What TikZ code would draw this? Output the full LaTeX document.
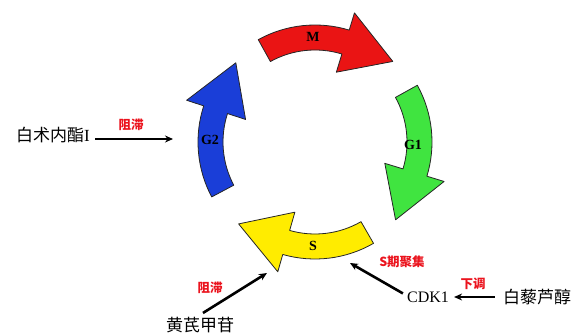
\documentclass[tikz,border=0pt]{standalone}
\usepackage{fontspec}
\setmainfont{Liberation Serif}
\newfontfamily\cjk{Noto Sans CJK SC}
\usetikzlibrary{calc,arrows.meta}

\definecolor{phaseM}{RGB}{234,20,20}
\definecolor{phaseGa}{RGB}{64,228,64}
\definecolor{phaseS}{RGB}{255,236,0}
\definecolor{phaseGb}{RGB}{26,62,216}
\definecolor{effectred}{RGB}{235,20,30}

% one curved cell-cycle arrow, running clockwise from the tail angle #1
\newcommand\phasearrow[2]{%
  \filldraw[phase, fill=#2]
    ($(C)+(#1:117)$) arc[start angle=#1, delta angle=-46, radius=117]
    -- ($(C)+({#1-46}:135)$) -- ($(C)+({#1-73}:112)$) -- ($(C)+({#1-46}:73)$)
    -- ($(C)+({#1-46}:92)$) arc[start angle={#1-46}, delta angle=46, radius=92]
    -- cycle;}

\begin{document}
\begin{tikzpicture}[x=1pt,y=1pt,
  phase/.style={draw=black!85, line width=0.8pt, line join=round},
  phasename/.style={font=\bfseries\fontsize{14}{14}\selectfont},
  agent/.style={inner sep=0pt, font=\fontsize{17}{17}\selectfont},
  effect/.style={inner sep=0pt, text=effectred, font=\cjk\bfseries\fontsize{12.5}{13}\selectfont},
  blocker/.style={-{Stealth[length=8pt,width=7pt]}, line width=2.6pt}]
\fill[white] (0,0) rectangle (573,335);
\useasboundingbox (0,0) rectangle (573,335);
\coordinate (C) at (315,193);

% the four phases
\phasearrow{119}{phaseM}
\phasearrow{29}{phaseGa}
\phasearrow{300}{phaseS}
\phasearrow{208}{phaseGb}
\node[phasename] (m)  at (313,298) {M};
\node[phasename] (g1) at (413,190) {G1};
\node[phasename] (s)  at (313,89)  {S};
\node[phasename] (g2) at (210,195) {G2};

% arrow targets next to the phases
\coordinate (g2hit) at (173,196);
\coordinate (shit) at (267,62);
\coordinate (sgather) at (350,72);

% compounds and targets
\node[agent] (baizhu)  at (53,199.5) {{\cjk 白术内酯}I};
\node[agent] (huangqi) at (200,10)   {\cjk 黄芪甲苷};
\node[agent, font=\fontsize{16}{16}\selectfont] (cdk) at (428,38) {CDK1};
\node[agent] (baili)   at (537,38)   {\cjk 白藜芦醇};

% effects
\draw[blocker, shorten <=5pt] (baizhu.east |- g2hit) -- (g2hit);
\node[effect] (zz1) at (131,210) {阻滞};

\draw[blocker] ($(huangqi.north)+(3,4)$) -- (shit);
\node[effect] (zz2) at (210,47) {阻滞};

\draw[blocker, shorten <=8pt, shorten >=5pt] (baili.west) -- (cdk.east);
\node[effect] (xt) at (473,51) {下调};

\draw[blocker] ($(cdk.north west)+(-4,-2)$) -- (sgather);
\node[effect] (sq) at (402,73) {S期聚集};
\end{tikzpicture}
\end{document}
